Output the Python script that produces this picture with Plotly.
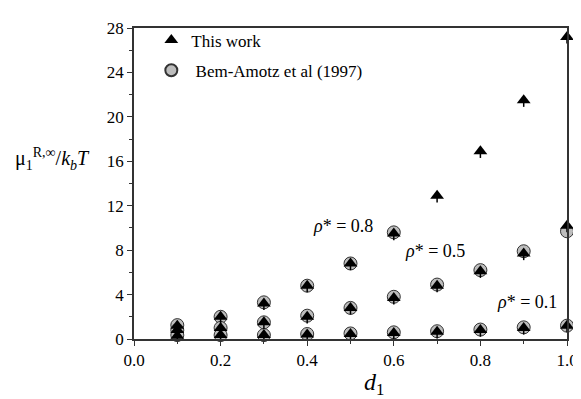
import plotly.graph_objects as go

d1 = [0.1, 0.2, 0.3, 0.4, 0.5, 0.6, 0.7, 0.8, 0.9, 1.0]
this_08 = [1.2, 2.0, 3.2, 4.8, 6.8, 9.5, 12.9, 16.9, 21.5, 27.2]
this_05 = [0.8, 1.0, 1.5, 2.0, 2.8, 3.7, 4.8, 6.1, 7.7, 10.2]
this_01 = [0.3, 0.35, 0.35, 0.4, 0.45, 0.55, 0.65, 0.8, 1.0, 1.2]
ba_d1_08 = [0.1, 0.2, 0.3, 0.4, 0.5, 0.6]
ba_08 = [1.25, 2.0, 3.3, 4.8, 6.8, 9.6]
ba_05 = [0.8, 1.0, 1.5, 2.1, 2.8, 3.8, 4.9, 6.2, 7.9, 9.7]
ba_01 = [0.35, 0.35, 0.35, 0.45, 0.5, 0.6, 0.7, 0.85, 1.05, 1.2]
rho_values = ["0.8", "0.5", "0.1"]
label_pos = [(0.483, 10.2), (0.695, 7.9), (0.908, 3.3)]

FONT = "Liberation Serif, Times New Roman, serif"
circ = dict(symbol="circle", size=13, color="#bdbdbd", line=dict(color="#333333", width=1))
tri = dict(symbol="triangle-up", size=12, color="black", line=dict(width=0))
stem = dict(type="data", symmetric=False, array=[0] * 10, arrayminus=[0.6] * 10,
            width=0, thickness=1.5, color="black")

fig = go.Figure()
fig.add_trace(go.Scatter(x=ba_d1_08, y=ba_08, mode="markers", marker=circ, showlegend=False, cliponaxis=False))
fig.add_trace(go.Scatter(x=d1, y=ba_05, mode="markers", marker=circ, showlegend=False, cliponaxis=False))
fig.add_trace(go.Scatter(x=d1, y=ba_01, mode="markers", marker=circ, showlegend=False, cliponaxis=False))
for ys in (this_08, this_05, this_01):
    fig.add_trace(go.Scatter(x=d1, y=ys, mode="markers", marker=tri, error_y=stem,
                             showlegend=False, cliponaxis=False))

# legend entries
fig.add_trace(go.Scatter(x=[None], y=[None], mode="markers", marker=tri, name="This work", legend="legend"))
fig.add_trace(go.Scatter(x=[None], y=[None], mode="markers", marker=circ, name=" Bem-Amotz et al (1997)",
                         legend="legend2"))

for r, (x, y) in zip(rho_values, label_pos):
    fig.add_annotation(x=x, y=y, text="<i>ρ</i>* = " + r, showarrow=False,
                       font=dict(family=FONT, size=18, color="black"))

fig.add_annotation(xref="paper", yref="paper", x=-0.096, y=0.58, xanchor="right", yanchor="middle",
                   text="μ<sub>1</sub><sup>R,∞</sup>/<i>k<sub>b</sub>T</i>", showarrow=False,
                   font=dict(family=FONT, size=20, color="black"))
fig.add_annotation(xref="paper", yref="paper", x=0.555, y=-0.145, xanchor="center", yanchor="middle",
                   text="<i>d</i><sub>1</sub>", showarrow=False,
                   font=dict(family=FONT, size=24, color="black"))

axis_common = dict(showline=True, linecolor="#333333", linewidth=1.5, mirror=True, ticks="outside",
                   ticklen=5, tickcolor="#333333", showgrid=False, zeroline=False,
                   tickfont=dict(family=FONT, size=17, color="black"))
fig.update_xaxes(range=[0, 1.0], tickvals=[0, 0.2, 0.4, 0.6, 0.8, 1.0], tickformat=".1f",
                 minor=dict(ticks="outside", ticklen=3, tickcolor="#333333", dtick=0.1, tick0=0),
                 **axis_common)
fig.update_yaxes(range=[0, 28], tickvals=list(range(0, 29, 4)),
                 minor=dict(ticks="outside", ticklen=3, tickcolor="#333333", dtick=2, tick0=0),
                 **axis_common)

leg_common = dict(xanchor="left", yanchor="middle", bgcolor="rgba(0,0,0,0)",
                  font=dict(family=FONT, size=17, color="black"), itemsizing="constant")
fig.update_layout(
    width=581, height=399,
    margin=dict(l=126, r=21, t=11, b=68),
    plot_bgcolor="white", paper_bgcolor="white",
    font=dict(family=FONT, color="black"),
    legend=dict(x=0.04, y=0.96, **leg_common),
    legend2=dict(x=0.04, y=0.8625, **leg_common),
)
fig.write_html("out.html")
